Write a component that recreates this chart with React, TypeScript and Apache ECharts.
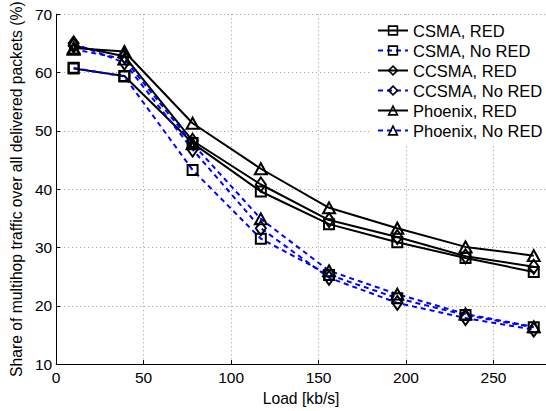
import React, { useEffect, useRef } from "react";
import * as echarts from "echarts";

const loads = [10, 39, 78, 117, 156, 195, 234, 273];
const csmaRed = [60.7, 59.4, 47.9, 39.6, 34.0, 30.9, 28.2, 25.8];
const csmaNoRed = [60.8, 59.3, 43.3, 31.5, 25.3, 21.3, 18.4, 16.3];
const ccsmaRed = [64.6, 62.8, 48.3, 40.8, 34.7, 31.8, 28.5, 26.7];
const ccsmaNoRed = [65.0, 61.7, 46.8, 33.3, 24.8, 20.5, 17.9, 15.9];
const phoenixRed = [64.2, 63.6, 51.3, 43.5, 36.8, 33.3, 30.1, 28.6];
const phoenixNoRed = [64.0, 62.3, 47.8, 34.9, 26.0, 22.0, 18.6, 16.4];
const xTicks = [0, 50, 100, 150, 200, 250];

const FONT = "Liberation Sans, Arial, Helvetica, sans-serif";

export default function App() {
  const ref = useRef<HTMLDivElement>(null);
  useEffect(() => {
    if (!ref.current) return;
    const chart = echarts.init(ref.current, undefined, { renderer: "svg" });
    const mk = (
      name: string,
      data: number[],
      dashed: boolean,
      symbol: string,
      size: number[]
    ) => ({
      name,
      type: "line",
      data: loads.map((x, i) => [x, data[i]]),
      symbol,
      symbolSize: size,
      showSymbol: true,
      silent: true,
      lineStyle: {
        color: dashed ? "#0000ff" : "#000000",
        width: 2,
        type: dashed ? [5, 4] : "solid",
      },
      itemStyle: {
        color: "transparent",
        borderColor: "#000000",
        borderWidth: 2,
      },
      emphasis: { disabled: true },
    });
    chart.setOption({
      animation: false,
      textStyle: { fontFamily: FONT },
      grid: { left: 51.5, top: 12.7, bottom: 43.7, right: -3.5, containLabel: false },
      legend: {
        orient: "vertical",
        left: 372,
        top: 17,
        padding: [5, 10, 5, 5],
        backgroundColor: "#ffffff",
        itemWidth: 30,
        itemHeight: 11,
        itemGap: 3,
        itemStyle: { borderWidth: 1.6 },
        textStyle: { fontSize: 16.5, lineHeight: 16, color: "#000", fontFamily: FONT },
        data: [
          "CSMA, RED",
          "CSMA, No RED",
          "CCSMA, RED",
          "CCSMA, No RED",
          "Phoenix, RED",
          "Phoenix, No RED",
        ],
      },
      xAxis: {
        type: "value",
        min: 0,
        max: 280,
        interval: 50,
        name: "Load [kb/s]",
        nameLocation: "middle",
        nameGap: 22,
        nameTextStyle: { fontSize: 15.7, color: "#000", fontFamily: FONT },
        axisLine: { show: true, lineStyle: { color: "#000", width: 1 } },
        axisTick: { show: true, inside: true, length: 4, lineStyle: { color: "#000" } },
        axisLabel: {
          fontSize: 15.5,
          color: "#000",
          margin: 5,
          showMaxLabel: false,
          formatter: (v: number) => (xTicks.includes(v) ? String(v) : ""),
        },
        splitLine: { show: true, lineStyle: { color: "#999", type: [1, 3], width: 1 } },
      },
      yAxis: {
        type: "value",
        min: 10,
        max: 70,
        interval: 10,
        name: "Share of multihop traffic over all delivered packets (%)",
        nameLocation: "middle",
        nameGap: 30,
        nameTextStyle: { fontSize: 15.7, color: "#000", fontFamily: FONT },
        axisLine: { show: true, lineStyle: { color: "#000", width: 1 } },
        axisTick: { show: true, inside: true, length: 4, lineStyle: { color: "#000" } },
        axisLabel: { fontSize: 15.5, color: "#000", margin: 4 },
        splitLine: { show: true, lineStyle: { color: "#999", type: [1, 3], width: 1 } },
      },
      series: [
        mk("CSMA, RED", csmaRed, false, "rect", [10, 10]),
        mk("CSMA, No RED", csmaNoRed, true, "rect", [10, 10]),
        mk("CCSMA, RED", ccsmaRed, false, "diamond", [10, 14]),
        mk("CCSMA, No RED", ccsmaNoRed, true, "diamond", [10, 14]),
        mk("Phoenix, RED", phoenixRed, false, "triangle", [12, 11]),
        mk("Phoenix, No RED", phoenixNoRed, true, "triangle", [12, 11]),
      ],
    });
    return () => chart.dispose();
  }, []);
  return (
    <div
      ref={ref}
      style={{ position: "fixed", left: 0, top: 0, width: 546, height: 411, background: "#fff" }}
    />
  );
}
